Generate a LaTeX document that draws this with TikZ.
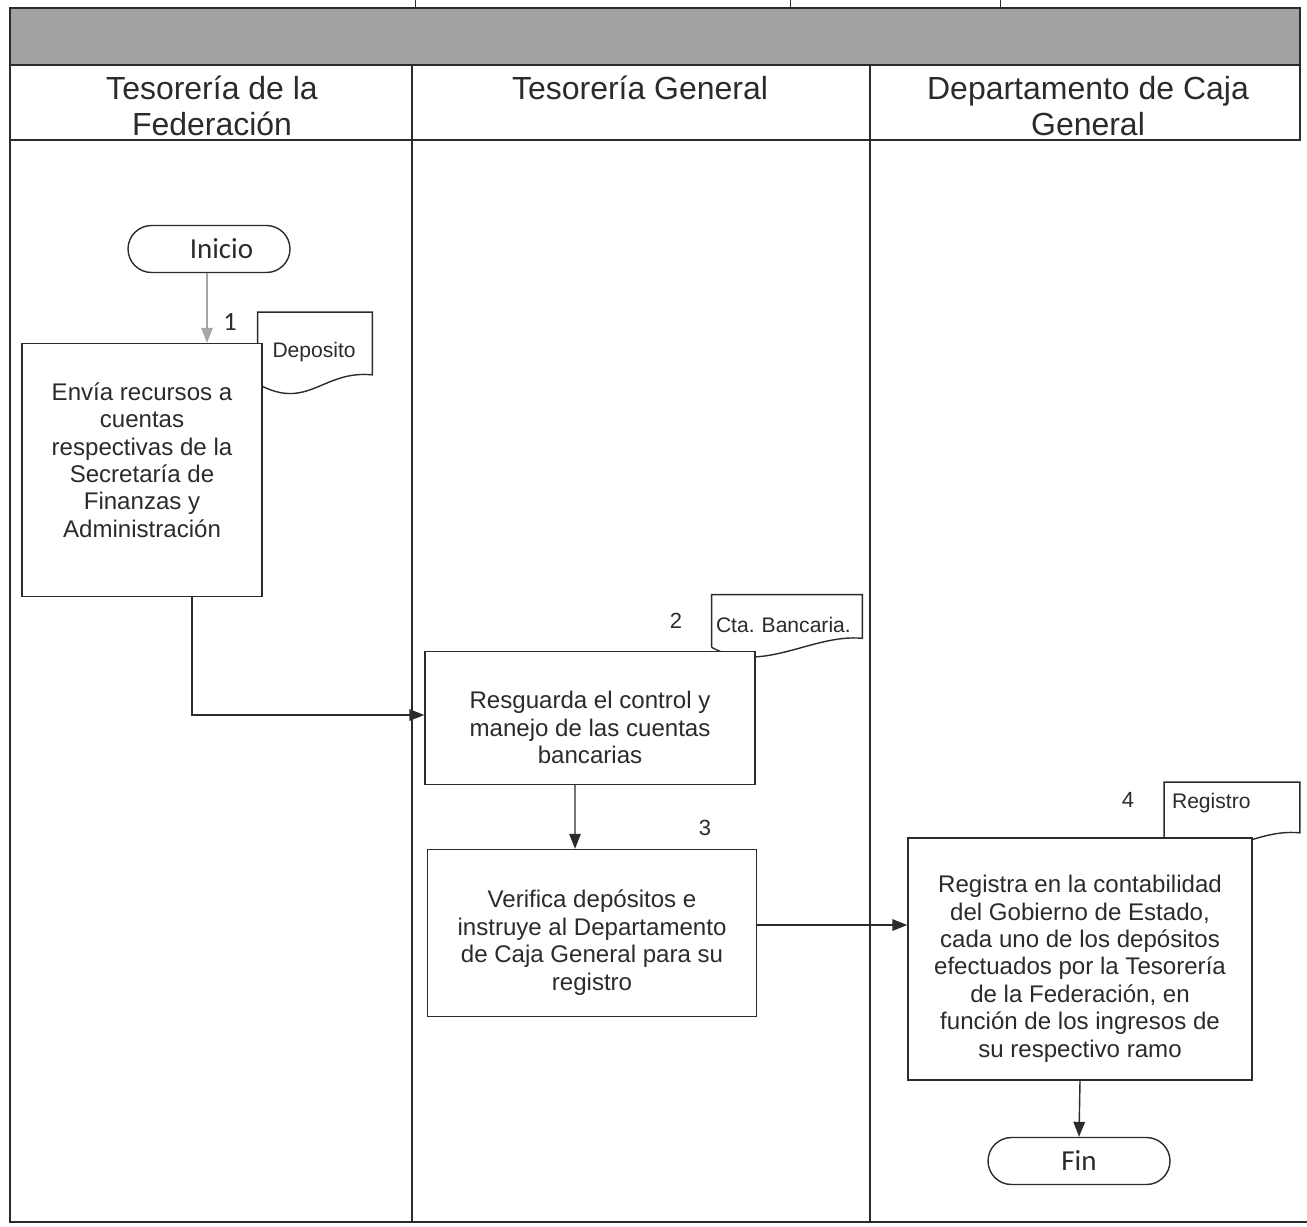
\documentclass[tikz,border=0pt]{standalone}
\usepackage{fontspec}
\setmainfont{Liberation Sans}
\newfontfamily\carlito{Carlito}
\usepackage{tikz}
\usetikzlibrary{arrows.meta,calc}
\definecolor{ink}{HTML}{2B2B2B}
\definecolor{band}{HTML}{A2A2A2}
\tikzstyle{proc}=[draw=ink,fill=white,align=center,text=ink,line width=0.8pt,inner sep=2pt,font=\fontsize{13.7}{15.6}\selectfont]
\tikzstyle{term}=[draw=ink,line width=0.8pt,rounded corners=0.47cm,text=ink,minimum width=3.24cm,minimum height=0.94cm,font=\carlito\fontsize{16.5}{18}\selectfont]
\tikzstyle{docu}=[align=left,text=ink,inner sep=0pt,font=\fontsize{12}{14}\selectfont]
\tikzstyle{numlbl}=[text=ink,inner sep=0pt,font=\fontsize{12.5}{14}\selectfont]
\tikzstyle{lanehead}=[align=center,text=ink,font=\fontsize{18.2}{20.4}\selectfont]
\tikzstyle{flow}=[draw=ink,line width=0.8pt,-{Triangle[length=0.3cm,width=0.23cm]}]
\newcommand{\docframe}[1]{%
  \draw[ink,line width=0.8pt] ($(#1.south west)+(0,-8)$) -- (#1.north west) -- (#1.north east)
    -- ($(#1.south east)+(0,-17)$) .. controls ($(#1.south east)+(-50,-22)$) and ($(#1.south west)+(50,20)$) .. ($(#1.south west)+(0,-8)$);}
\newcommand{\downstrut}{\rule{0pt}{21pt}}

\begin{document}
\begin{tikzpicture}[x=0.02cm,y=-0.02cm]
    \useasboundingbox (0,0) rectangle (1307,1226);
    \draw[ink,line width=0.5pt] (415,0) -- (415,8) (790,0) -- (790,8) (1000,0) -- (1000,8);
    \draw[ink,line width=0.8pt,fill=band] (10,8) rectangle (1300,65);
    \draw[ink,line width=0.8pt] (10,65) rectangle (1300,140);
    \draw[ink,line width=0.8pt] (10,140) -- (10,1222) -- (1307,1222);
    \draw[ink,line width=0.8pt] (412,65) -- (412,1222) (870,65) -- (870,1222);

    \node [lanehead] (lane1) at (212,106) {Tesorería de la\\Federación};
    \node [lanehead] (lane2) at (640,88) {Tesorería General};
    \node [lanehead] (lane3) at (1088,106) {Departamento de Caja\\General};

    \node [docu,minimum width=2.28cm,minimum height=1.58cm,text width=1.7cm] (doc1) at (315,352) {Deposito};
    \node [docu,minimum width=3cm,minimum height=1.2cm,text width=2.84cm] (doc2) at (787,625) {Cta.\ Bancaria.};
    \node [docu,minimum width=2.7cm,minimum height=1.34cm,text width=2.4cm,text depth=0.62cm] (doc4) at (1232,816) {Registro};
    \docframe{doc1}
    \docframe{doc2}
    \docframe{doc4}

    \node [term] (ini) at (209,249) {\hspace*{0.5cm}Inicio};
    \node [proc,minimum width=4.8cm,minimum height=5.06cm] (act1) at (142,470)
      {Envía recursos a\\cuentas\\respectivas de la\\Secretaría de\\Finanzas y\\Administración\rule[-0.4cm]{0pt}{0pt}};
    \node [proc,minimum width=6.6cm,minimum height=2.66cm] (act2) at (590,718)
      {\downstrut Resguarda el control y\\manejo de las cuentas\\bancarias};
    \node [proc,minimum width=6.58cm,minimum height=3.34cm] (act3) at (592,933)
      {\downstrut Verifica depósitos e\\instruye al Departamento\\de Caja General para su\\registro};
    \node [proc,minimum width=6.88cm,minimum height=4.84cm] (act4) at (1080,959)
      {\downstrut Registra en la contabilidad\\del Gobierno de Estado,\\cada uno de los depósitos\\efectuados por la Tesorería\\de la Federación, en\\función de los ingresos de\\su respectivo ramo};
    \node [term,minimum width=3.64cm] (fin) at (1079,1161) {Fin};

    \node [numlbl,font=\carlito\fontsize{15}{16}\selectfont] (n1) at (230,322) {1};
    \node [numlbl] (n2) at (676,621) {2};
    \node [numlbl] (n3) at (705,828) {3};
    \node [numlbl] (n4) at (1128,800) {4};

    \draw[flow,draw=gray!70] ([xshift=-0.04cm]ini.south) -- ([xshift=-0.04cm]ini.south |- act1.north);
    \draw[flow] ([xshift=1cm]act1.south) |- ([yshift=0.06cm]act2.west);
    \draw[flow] ([xshift=-0.3cm]act2.south) -- ([xshift=-0.34cm]act3.north);
    \draw[flow] ([yshift=0.16cm]act3.east) -- ([yshift=0.16cm]act3.east -| act4.west);
    \draw[flow] (act4.south) -- (fin.north);
\end{tikzpicture}
\end{document}
